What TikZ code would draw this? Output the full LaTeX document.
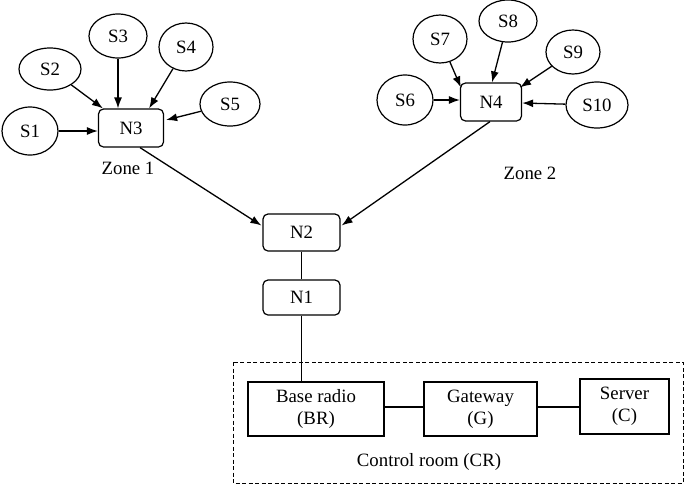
\documentclass[tikz,border=0pt]{standalone}
\usepackage{fontspec}
\setmainfont{Liberation Serif}
\usetikzlibrary{shapes.geometric,arrows.meta,calc}
\begin{document}
\begin{tikzpicture}[x=1pt,y=-1pt,
  every node/.style={font=\fontsize{18.8}{22}\selectfont},
  sensor/.style={draw,ellipse,line width=1.2pt,inner sep=0pt},
  relay/.style={draw,rounded corners=5pt,line width=1.2pt,inner sep=0pt},
  crbox/.style={draw,line width=1.3pt,inner sep=0pt,align=center},
  arr/.style={-{Latex[length=11pt,width=8pt]},line width=1.3pt},
  link/.style={line width=1.2pt}]
\useasboundingbox (0,0) rectangle (685,485);
% sensors zone 1
\node[sensor,minimum width=56,minimum height=48] (S1) at (30,131) {S1};
\node[sensor,minimum width=62,minimum height=42] (S2) at (50,69) {S2};
\node[sensor,minimum width=58,minimum height=44] (S3) at (118,36) {S3};
\node[sensor,minimum width=54,minimum height=48] (S4) at (186,47) {S4};
\node[sensor,minimum width=60,minimum height=44] (S5) at (230,104) {S5};
% sensors zone 2
\node[sensor,minimum width=56,minimum height=50] (S6) at (405,100) {S6};
\node[sensor,minimum width=54,minimum height=48] (S7) at (440,39) {S7};
\node[sensor,minimum width=58,minimum height=42] (S8) at (508,21) {S8};
\node[sensor,minimum width=54,minimum height=44] (S9) at (573,52) {S9};
\node[sensor,minimum width=62,minimum height=46] (S10) at (597,105) {S10};
% relay nodes
\node[relay,minimum width=65,minimum height=38] (N3) at (131,128) {N3};
\node[relay,minimum width=61,minimum height=38] (N4) at (491,102) {N4};
\node[relay,minimum width=77,minimum height=37] (N2) at (301.5,232.5) {N2};
\node[relay,minimum width=77,minimum height=35] (N1) at (301.5,297.5) {N1};
% labels
\node (Z1) at (128,168) {Zone 1};
\node (Z2) at (530,173) {Zone 2};
% control room
\node[crbox,minimum width=136,minimum height=54] (BR) at (316,409) {Base radio\\(BR)};
\node[crbox,minimum width=113,minimum height=54] (G) at (480.5,409) {Gateway\\(G)};
\node[crbox,minimum width=89,minimum height=55] (C) at (624.5,406.5) {Server\\(C)};
\node (CRL) at (429,462) {Control room (CR)};
\coordinate (CRa) at (233,362);
\coordinate (CRb) at (683,483);
\draw[line width=1pt,dash pattern=on 4pt off 2.5pt] (CRa) rectangle (CRb);
% arrows zone 1
\draw[arr] (S1) -- (S1 -| N3.west);
\draw[arr] (S2) -- ($(N3.north west)+(5,0)$);
\draw[arr] (S3) -- (S3 |- N3.north);
\draw[arr] (S4) -- ($(N3.north east)+(-15,0)$);
\draw[arr] (S5) -- ($(N3.east)+(2,-8)$);
% arrows zone 2
\draw[arr] (S6) -- (S6 -| N4.west);
\draw[arr] (S7) -- ($(N4.north west)+(1,5)$);
\draw[arr] (S8) -- ($(N4.north)+(1,0)$);
\draw[arr] (S9) -- ($(N4.north east)+(-2,5)$);
\draw[arr] (S10) -- ($(N4.east)+(0,1)$);
% to N2
\draw[arr] ($(N3.south)+(9,0)$) -- ($(N2.west)+(-1,-7)$);
\draw[arr] ($(N4.south)+(-1,0)$) -- ($(N2.east)+(1,-7)$);
% links
\draw[link] (N2) -- (N1);
\draw[link] (N1) -- (N1 |- BR.north);
\draw[link] (BR.east |- 0,407) -- (G.west |- 0,407);
\draw[link] (G.east |- 0,407) -- (C.west |- 0,407);
\end{tikzpicture}
\end{document}
